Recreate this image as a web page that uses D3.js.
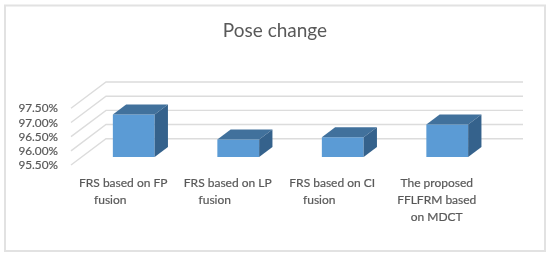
<!DOCTYPE html>
<html>
<head>
<meta charset="utf-8">
<script src="https://cdn.jsdelivr.net/npm/d3@7/dist/d3.min.js"></script>
<style>
  html, body { margin: 0; padding: 0; background: #fff; }
  svg { display: block; filter: blur(0.4px); }
  text { font-family: Lato, "Open Sans", sans-serif; fill: #595959; }
  .label, .tick { stroke: #595959; stroke-width: 0.2px; }
</style>
</head>
<body>
<svg id="chart" width="550" height="258"></svg>
<script>
var chartTitle = "Pose change";
var categories = ["FRS based on FP fusion", "FRS based on LP fusion", "FRS based on CI fusion", "The proposed FFLFRM based on MDCT"];
var labelLines = [
  ["FRS based on FP", "fusion"],
  ["FRS based on LP", "fusion"],
  ["FRS based on CI", "fusion"],
  ["The proposed", "FFLFRM based", "on MDCT"]
];
var values = [97.0, 96.12, 96.2, 96.65];
var ticks = [95.5, 96.0, 96.5, 97.0, 97.5];

var svg = d3.select("#chart");

// front plane of the 3d box, everything else is pushed back from it
var x = d3.scaleBand().domain(categories).range([71, 489]).paddingInner(0.6).paddingOuter(0.3);
var y = d3.scaleLinear().domain([95.5, 97.5]).range([165, 108.3]);
var depthX = 35, depthY = 26.3;
var barNear = 0.3, barFar = 0.68;

svg.append("rect")
  .attr("x", 5).attr("y", 5.5)
  .attr("width", 540).attr("height", 245.5)
  .attr("fill", "#fff")
  .attr("stroke", "#e2e2e2")
  .attr("stroke-width", 2);

svg.append("text")
  .attr("x", 275).attr("y", 37)
  .attr("text-anchor", "middle")
  .style("font-size", "19px")
  .text(chartTitle);

// gridlines: diagonal on the side wall, then flat along the back
var grid = d3.line();
svg.selectAll(".grid")
  .data(ticks)
  .enter().append("path")
  .attr("class", "grid")
  .attr("fill", "none")
  .attr("stroke", "#dcdcdc")
  .attr("stroke-width", 1.4)
  .attr("d", function(d) {
    return grid([
      [x.range()[0], y(d)],
      [x.range()[0] + depthX, y(d) - depthY],
      [x.range()[1] + depthX - 1, y(d) - depthY]
    ]);
  });

svg.selectAll(".tick")
  .data(ticks)
  .enter().append("text")
  .attr("class", "tick")
  .attr("x", 58)
  .attr("y", function(d) { return y(d); })
  .attr("dy", "0.35em")
  .attr("text-anchor", "end")
  .style("font-size", "11.8px")
  .text(function(d) { return d.toFixed(2) + "%"; });

function corners(i) {
  var x0 = x(categories[i]) + depthX * barNear;
  var x1 = x0 + x.bandwidth();
  var base = y(95.5) - depthY * barNear;
  var top = y(values[i]) - depthY * barNear;
  var dx = depthX * (barFar - barNear);
  var dy = depthY * (barFar - barNear);
  return { x0: x0, x1: x1, base: base, top: top, dx: dx, dy: dy };
}

var poly = d3.line();
var bars = svg.selectAll(".bar")
  .data(values)
  .enter().append("g")
  .attr("class", "bar");

bars.append("path")
  .attr("fill", "#5b9bd5")
  .attr("d", function(d, i) {
    var c = corners(i);
    return poly([[c.x0, c.top], [c.x1, c.top], [c.x1, c.base], [c.x0, c.base]]) + "Z";
  });
bars.append("path")
  .attr("fill", "#41719c")
  .attr("d", function(d, i) {
    var c = corners(i);
    return poly([[c.x0, c.top], [c.x0 + c.dx, c.top - c.dy], [c.x1 + c.dx, c.top - c.dy], [c.x1, c.top]]) + "Z";
  });
bars.append("path")
  .attr("fill", "#35628c")
  .attr("d", function(d, i) {
    var c = corners(i);
    return poly([[c.x1, c.top], [c.x1 + c.dx, c.top - c.dy], [c.x1 + c.dx, c.base - c.dy], [c.x1, c.base]]) + "Z";
  });

// category labels, wrapped by hand like the original
var labels = svg.selectAll(".label")
  .data(labelLines)
  .enter().append("text")
  .attr("class", "label")
  .attr("text-anchor", "middle")
  .style("font-size", "12px");

labels.selectAll("tspan")
  .data(function(d, i) {
    return d.map(function(s, j) { return { s: s, j: j, c: categories[i] }; });
  })
  .enter().append("tspan")
  .attr("x", function(d) {
    // the "fusion" lines sit left of centre in the original
    var nudge = d.s === "fusion" ? -13 : 0;
    return x(d.c) + x.bandwidth() / 2 + nudge;
  })
  .attr("y", function(d) { return 187 + d.j * 17; })
  .text(function(d) { return d.s; });
</script>
</body>
</html>
